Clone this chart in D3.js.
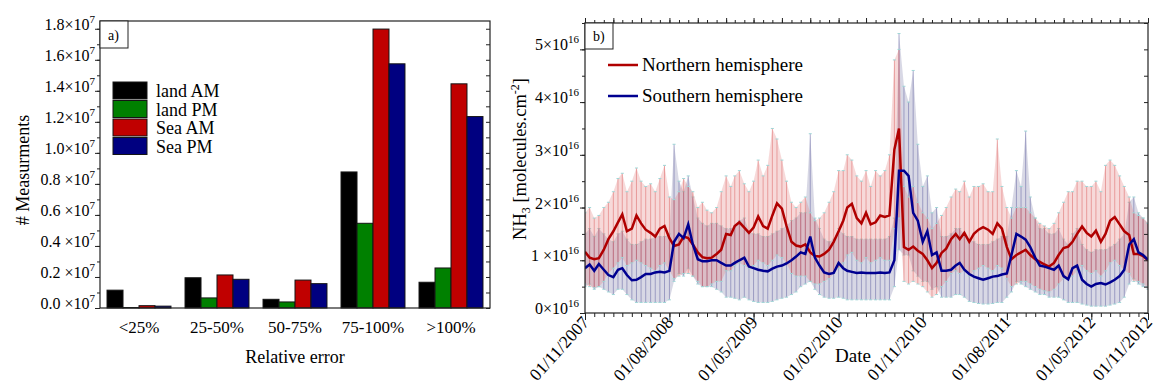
<!DOCTYPE html>
<html>
<head>
<meta charset="utf-8">
<script src="https://cdn.jsdelivr.net/npm/d3@7"></script>
<style>
body { margin: 0; background: #fff; }
svg, svg text { font-family: "Liberation Serif", "DejaVu Serif", "Times New Roman", Times, serif; }
svg { display: block; }
</style>
</head>
<body>
<svg id="chart" width="1156" height="392"></svg>
<script>
// ---------- panel a data (units of 10^7) ----------
var categories = ["<25%", "25-50%", "50-75%", "75-100%", ">100%"];
var seriesNames = ["land AM", "land PM", "Sea AM", "Sea PM"];
var landAM = [0.115, 0.195, 0.056, 0.877, 0.166];
var landPM = [0.003, 0.065, 0.039, 0.546, 0.258];
var seaAM  = [0.015, 0.213, 0.180, 1.798, 1.445];
var seaPM  = [0.012, 0.185, 0.157, 1.574, 1.234];
var yTicksA = [0, 0.2, 0.4, 0.6, 0.8, 1.0, 1.2, 1.4, 1.6, 1.8];
var yTickTextA = ["0.0 \u00d710", "0.2 \u00d710", "0.4 \u00d710", "0.6 \u00d710", "0.8 \u00d710",
                  "1.0\u00d710", "1.2\u00d710", "1.4\u00d710", "1.6\u00d710", "1.8\u00d710"];

// ---------- panel b data (units of 10^16), one value per half month ----------
var northMean = [
  1.16,1.05,1.02,1.04,1.20,1.40,1.55,1.72,1.87,1.55,
  1.60,1.85,1.70,1.58,1.52,1.45,1.60,1.65,1.42,1.27,
  1.30,1.45,1.42,1.30,1.15,1.06,1.04,1.05,1.12,1.20,
  1.50,1.48,1.65,1.72,1.62,1.52,1.62,1.83,1.65,1.60,
  1.85,2.08,1.98,1.65,1.35,1.28,1.26,1.30,1.15,1.08,
  1.07,1.12,1.20,1.35,1.55,1.75,2.00,2.07,1.80,1.70,
  1.90,1.68,1.72,1.85,1.82,1.85,3.10,3.50,1.25,1.20,
  1.26,1.18,1.12,1.00,0.85,0.95,1.14,1.22,1.40,1.50,
  1.40,1.52,1.35,1.50,1.58,1.63,1.58,1.50,1.70,1.60,
  1.25,1.02,1.10,1.15,1.20,1.10,1.02,0.97,0.92,0.88,
  0.95,1.10,1.23,1.26,1.35,1.50,1.64,1.52,1.45,1.56,
  1.35,1.50,1.75,1.82,1.68,1.55,1.48,1.12,1.12,1.08,
  1.00];
var northLow = [
  0.55,0.50,0.48,0.50,0.60,0.75,0.85,0.95,1.05,0.90,
  0.95,1.00,0.95,0.90,0.85,0.80,0.90,0.95,0.80,0.65,
  0.70,0.75,0.75,0.70,0.60,0.50,0.50,0.55,0.60,0.60,
  0.80,0.80,0.90,0.95,0.90,0.85,0.90,1.00,0.95,0.90,
  1.00,1.10,1.05,0.95,0.75,0.70,0.70,0.70,0.60,0.55,
  0.55,0.60,0.65,0.75,0.85,0.95,1.10,1.15,1.00,0.95,
  1.05,0.95,1.00,1.05,1.00,1.00,1.60,1.80,0.60,0.55,
  0.60,0.55,0.50,0.40,0.30,0.35,0.50,0.60,0.75,0.80,
  0.75,0.80,0.70,0.80,0.85,0.90,0.85,0.80,0.90,0.85,
  0.65,0.50,0.55,0.60,0.60,0.55,0.50,0.45,0.42,0.40,
  0.45,0.55,0.65,0.65,0.70,0.80,0.90,0.80,0.75,0.80,
  0.70,0.80,0.95,1.00,0.90,0.80,0.75,0.60,0.60,0.55,
  0.50];
var northHigh = [
  1.90,2.00,1.80,1.85,2.00,2.10,2.30,2.55,2.65,2.30,
  2.50,2.75,2.50,2.40,2.45,2.30,2.55,2.80,2.20,2.15,
  2.30,2.55,2.40,2.30,2.00,2.10,1.95,1.90,2.00,2.30,
  2.60,2.40,2.60,2.70,2.45,2.30,2.50,2.90,2.60,2.80,
  3.50,3.30,2.90,2.50,2.10,2.00,2.10,2.20,1.90,1.75,
  1.80,1.90,2.10,2.30,2.70,2.70,3.00,2.90,2.60,2.50,
  2.70,2.40,2.70,2.60,2.70,3.00,4.80,5.00,2.40,2.20,
  2.40,2.10,1.90,1.80,1.60,1.70,1.85,2.00,2.20,2.35,
  2.30,2.50,2.20,2.40,2.40,2.45,2.30,2.30,3.30,2.40,
  2.00,1.80,2.00,2.00,2.00,1.90,1.80,1.70,1.65,1.60,
  1.70,1.90,2.10,2.30,2.30,2.50,2.50,2.40,2.40,2.50,
  2.30,2.80,2.90,2.80,2.60,2.40,2.20,1.90,1.85,1.80,
  1.70];
var southMean = [
  0.85,0.92,0.80,0.93,0.82,0.72,0.68,0.82,0.85,0.72,
  0.62,0.63,0.68,0.74,0.74,0.77,0.78,0.77,0.80,1.35,
  1.50,1.42,1.68,1.30,1.02,0.98,0.98,1.00,1.00,0.95,
  0.90,0.90,0.95,1.00,1.05,0.88,0.85,0.82,0.80,0.79,
  0.84,0.88,0.90,0.94,1.00,1.07,1.15,1.12,1.45,1.05,
  0.90,0.77,0.74,0.76,0.95,0.85,0.80,0.78,0.76,0.77,
  0.76,0.76,0.76,0.77,0.76,0.77,1.00,2.70,2.70,2.60,
  1.90,1.75,1.35,1.55,1.10,1.15,0.80,0.80,0.82,0.90,
  0.95,0.82,0.74,0.69,0.66,0.63,0.66,0.69,0.70,0.73,
  0.75,1.10,1.50,1.45,1.39,1.25,1.05,0.90,0.88,0.85,
  0.82,0.90,0.70,0.64,0.85,0.90,0.63,0.55,0.50,0.55,
  0.57,0.54,0.58,0.63,0.70,0.82,1.30,1.40,1.15,1.10,
  1.01];
var southLow = [
  0.50,0.55,0.45,0.50,0.45,0.40,0.35,0.45,0.45,0.35,
  0.25,0.20,0.20,0.20,0.20,0.20,0.20,0.20,0.25,0.60,
  0.75,0.70,0.85,0.70,0.55,0.50,0.50,0.50,0.45,0.40,
  0.30,0.30,0.28,0.25,0.30,0.25,0.22,0.20,0.20,0.20,
  0.22,0.25,0.28,0.30,0.35,0.40,0.50,0.55,0.60,0.45,
  0.35,0.30,0.28,0.28,0.30,0.28,0.25,0.25,0.25,0.25,
  0.25,0.25,0.25,0.25,0.25,0.25,0.50,1.20,1.10,1.10,
  0.80,0.70,0.60,0.60,0.45,0.50,0.30,0.30,0.30,0.35,
  0.35,0.30,0.22,0.20,0.18,0.17,0.17,0.18,0.20,0.20,
  0.30,0.40,0.60,0.55,0.50,0.45,0.40,0.35,0.35,0.30,
  0.30,0.30,0.25,0.20,0.20,0.20,0.17,0.15,0.13,0.13,
  0.13,0.13,0.15,0.17,0.20,0.30,0.55,0.65,0.55,0.50,
  0.45];
var southHigh = [
  1.50,1.60,1.45,1.60,1.50,1.40,1.35,1.50,1.55,1.40,
  1.30,1.30,1.35,1.40,1.40,1.45,1.45,1.45,1.50,3.20,
  2.50,2.30,2.60,2.20,1.80,1.70,1.65,1.70,1.70,1.65,
  1.60,1.60,1.65,1.75,1.80,1.55,1.50,1.50,1.45,1.45,
  1.50,1.55,1.60,1.65,1.75,1.80,1.90,1.90,3.40,1.80,
  1.60,1.40,1.35,1.40,1.60,1.50,1.45,1.45,1.40,1.40,
  1.40,1.40,1.40,1.40,1.40,1.45,1.80,5.30,4.30,4.00,
  4.60,3.20,2.40,2.60,1.90,2.00,1.45,1.45,1.50,1.60,
  1.60,1.50,1.40,1.35,1.30,1.30,1.30,1.35,1.40,1.45,
  1.45,2.00,2.70,2.40,3.45,2.20,1.80,1.60,1.60,1.50,
  1.50,1.60,1.40,1.30,1.50,1.60,1.30,1.20,1.15,1.20,
  1.20,1.20,1.25,1.30,1.40,1.50,2.10,2.20,1.90,1.80,
  1.70];
var yTicksB = [0, 1, 2, 3, 4, 5];
var yTickTextB = ["0\u00d710", "1 \u00d710", "2\u00d710", "3\u00d710", "4\u00d710", "5\u00d710"];
var xDateLabels = ["01/11/2007", "01/08/2008", "01/05/2009", "01/02/2010",
                   "01/11/2010", "01/08/2011", "01/05/2012", "01/11/2012"];

// ---------- styles ----------
var barColors = ["#000000", "#008000", "#c00000", "#000080"];
var northColor = "#b00000", southColor = "#000090";
var serif = "'Liberation Serif', 'DejaVu Serif', 'Times New Roman', serif";

var svg = d3.select("#chart").style("font-family", serif);

// ================= panel a =================
var pa = {left: 100, right: 490, top: 21, bottom: 308};

var xA = d3.scaleBand().domain(categories).range([pa.left, pa.right])
  .paddingInner(0.18).paddingOuter(0.09);
var xSub = d3.scaleBand().domain(seriesNames).range([0, xA.bandwidth()]);
var yA = d3.scaleLinear().domain([0, 1.85]).range([pa.bottom, pa.top]);
var colA = d3.scaleOrdinal().domain(seriesNames).range(barColors);

var seriesA = [landAM, landPM, seaAM, seaPM];
seriesNames.forEach(function(name, k) {
  svg.append("g").selectAll("rect")
    .data(seriesA[k])
    .enter().append("rect")
    .attr("x", (d, i) => xA(categories[i]) + xSub(name))
    .attr("y", d => yA(d))
    .attr("width", xSub.bandwidth())
    .attr("height", d => yA(0) - yA(d))
    .style("fill", colA(name))
    .style("stroke", "#151515")
    .style("stroke-width", 1);
});

// frame
svg.append("rect")
  .attr("x", pa.left).attr("y", pa.top)
  .attr("width", pa.right - pa.left).attr("height", pa.bottom - pa.top)
  .style("fill", "none").style("stroke", "#222").style("stroke-width", 1.2);

var minorA = d3.range(0, 1.81, 0.1);
// left ticks (outward)
svg.append("g")
  .attr("transform", "translate(" + pa.left + ",0)")
  .call(d3.axisLeft(yA).tickValues(minorA).tickSize(3).tickSizeOuter(0).tickFormat(""));
svg.append("g")
  .attr("transform", "translate(" + pa.left + ",0)")
  .call(d3.axisLeft(yA).tickValues(yTicksA).tickSize(5).tickSizeOuter(0).tickFormat(""));
// right ticks (inward)
svg.append("g")
  .attr("transform", "translate(" + pa.right + ",0)")
  .call(d3.axisLeft(yA).tickValues(minorA).tickSize(4).tickSizeOuter(0).tickFormat(""));

yTicksA.forEach(function(v, i) {
  var t = svg.append("text")
    .attr("x", pa.left - 5).attr("y", yA(v) + 1)
    .style("text-anchor", "end").style("font-size", "16px");
  t.append("tspan").text(yTickTextA[i]);
  t.append("tspan").attr("dy", -7).style("font-size", "11px").text("7");
});

// category labels
svg.append("g").selectAll("text")
  .data(categories)
  .enter().append("text")
  .attr("x", d => xA(d) + xA.bandwidth() / 2)
  .attr("y", 333)
  .style("text-anchor", "middle").style("font-size", "17px")
  .text(d => d);

svg.append("text")
  .attr("x", 295).attr("y", 363)
  .style("text-anchor", "middle").style("font-size", "18px")
  .text("Relative error");

svg.append("text")
  .attr("transform", "translate(29,170) rotate(-90)")
  .style("text-anchor", "middle").style("font-size", "18px")
  .text("# Measurments");

// a) box
svg.append("rect").attr("x", pa.left).attr("y", pa.top).attr("width", 28).attr("height", 27)
  .style("fill", "#fff").style("stroke", "#222").style("stroke-width", 1);
svg.append("text").attr("x", pa.left + 8).attr("y", pa.top + 19)
  .style("font-size", "14px").text("a)");

// legend a
var legA = svg.selectAll(".legA")
  .data(seriesNames)
  .enter().append("g")
  .attr("class", "legA")
  .attr("transform", (d, i) => "translate(113," + (82 + i * 18.5) + ")");
legA.append("rect")
  .attr("width", 34).attr("height", 17)
  .style("fill", d => colA(d)).style("stroke", "#151515");
legA.append("text")
  .attr("x", 43).attr("y", 15)
  .style("font-size", "18px")
  .text(d => d);

// ================= panel b =================
var pb = {left: 585, right: 1148, top: 23, bottom: 313};
var parseD = d3.timeParse("%d/%m/%Y");
var t0 = parseD("01/11/2007"), t1 = parseD("01/11/2012");

var xB = d3.scaleTime().domain([t0, t1]).range([pb.left, pb.right]);
var yB = d3.scaleLinear().domain([0, 5.5]).range([pb.bottom, pb.top]);

// sample dates: 1st and 16th of each month
var sampleDates = [];
d3.timeMonth.range(t0, t1).forEach(function(m) {
  sampleDates.push(m, d3.timeDay.offset(m, 15));
});
sampleDates.push(t1);

svg.append("clipPath").attr("id", "clipB")
  .append("rect").attr("x", pb.left).attr("y", pb.top)
  .attr("width", pb.right - pb.left).attr("height", pb.bottom - pb.top);

var plotB = svg.append("g").attr("clip-path", "url(#clipB)");

function errorBand(low, high, fillCol, barCol) {
  var area = d3.area()
    .x((d, i) => xB(sampleDates[i]))
    .y0((d, i) => yB(low[i]))
    .y1((d, i) => yB(high[i]));
  plotB.append("path").datum(low)
    .attr("d", area)
    .style("fill", fillCol).style("stroke", "none");
  var g = plotB.append("g");
  g.selectAll("line.bar").data(low).enter().append("line")
    .attr("class", "bar")
    .attr("x1", (d, i) => xB(sampleDates[i])).attr("x2", (d, i) => xB(sampleDates[i]))
    .attr("y1", (d, i) => yB(low[i])).attr("y2", (d, i) => yB(high[i]))
    .style("stroke", barCol).style("stroke-width", 1);
  g.selectAll("line.capT").data(high).enter().append("line")
    .attr("class", "capT")
    .attr("x1", (d, i) => xB(sampleDates[i]) - 1.5).attr("x2", (d, i) => xB(sampleDates[i]) + 1.5)
    .attr("y1", d => yB(d)).attr("y2", d => yB(d))
    .style("stroke", "#9fd6d6").style("stroke-width", 1);
  g.selectAll("line.capB").data(low).enter().append("line")
    .attr("class", "capB")
    .attr("x1", (d, i) => xB(sampleDates[i]) - 1.5).attr("x2", (d, i) => xB(sampleDates[i]) + 1.5)
    .attr("y1", d => yB(d)).attr("y2", d => yB(d))
    .style("stroke", "#9fd6d6").style("stroke-width", 1);
}

errorBand(southLow, southHigh, "rgba(100,100,150,0.25)", "rgba(80,80,150,0.45)");
errorBand(northLow, northHigh, "rgba(225,120,120,0.28)", "rgba(215,80,80,0.45)");

var lineB = d3.line().x((d, i) => xB(sampleDates[i])).y(d => yB(d));
plotB.append("path").datum(northMean).attr("d", lineB)
  .style("fill", "none").style("stroke", northColor).style("stroke-width", 2.5);
plotB.append("path").datum(southMean).attr("d", lineB)
  .style("fill", "none").style("stroke", southColor).style("stroke-width", 2.5);

// frame
svg.append("rect")
  .attr("x", pb.left).attr("y", pb.top)
  .attr("width", pb.right - pb.left).attr("height", pb.bottom - pb.top)
  .style("fill", "none").style("stroke", "#222").style("stroke-width", 1.2);

// y ticks
var halfB = d3.range(0, 5.51, 0.5);
svg.append("g").attr("transform", "translate(" + pb.left + ",0)")
  .call(d3.axisLeft(yB).tickValues(halfB).tickSize(3).tickSizeOuter(0).tickFormat(""));
svg.append("g").attr("transform", "translate(" + pb.left + ",0)")
  .call(d3.axisLeft(yB).tickValues(yTicksB).tickSize(5).tickSizeOuter(0).tickFormat(""));
svg.append("g").attr("transform", "translate(" + pb.right + ",0)")
  .call(d3.axisLeft(yB).tickValues(halfB).tickSize(4).tickSizeOuter(0).tickFormat(""));

yTicksB.forEach(function(v, i) {
  var t = svg.append("text")
    .attr("x", pb.left - 6).attr("y", yB(v) + 1)
    .style("text-anchor", "end").style("font-size", "16px");
  t.append("tspan").text(yTickTextB[i]);
  t.append("tspan").attr("dy", -7).style("font-size", "11px").text("16");
});

// x ticks
var monthsB = d3.timeMonth.range(t0, d3.timeDay.offset(t1, 1));
var quartersB = monthsB.filter((d, i) => i % 3 === 0);
var labelDates = xDateLabels.map(parseD);
svg.append("g").attr("transform", "translate(0," + pb.bottom + ")")
  .call(d3.axisBottom(xB).tickValues(monthsB).tickSize(4).tickSizeOuter(0).tickFormat(""));
svg.append("g").attr("transform", "translate(0," + pb.bottom + ")")
  .call(d3.axisBottom(xB).tickValues(labelDates).tickSize(7).tickSizeOuter(0).tickFormat(""));
svg.append("g").attr("transform", "translate(0," + pb.top + ")")
  .call(d3.axisTop(xB).tickValues(monthsB).tickSize(3).tickSizeOuter(0).tickFormat(""));
svg.append("g").attr("transform", "translate(0," + pb.top + ")")
  .call(d3.axisTop(xB).tickValues(quartersB).tickSize(5).tickSizeOuter(0).tickFormat(""));

svg.append("g").selectAll("text")
  .data(xDateLabels)
  .enter().append("text")
  .attr("transform", d => "translate(" + (xB(parseD(d)) + 5) + "," + (pb.bottom + 10) + ") rotate(-48)")
  .style("text-anchor", "end").style("font-size", "17.5px")
  .text(d => d);

svg.append("text")
  .attr("x", 853).attr("y", 362)
  .style("text-anchor", "middle").style("font-size", "19px")
  .text("Date");

// y label NH3
var yl = svg.append("text")
  .attr("transform", "translate(526,159) rotate(-90)")
  .style("text-anchor", "middle").style("font-size", "18.5px");
yl.append("tspan").text("NH");
yl.append("tspan").attr("dy", 4).style("font-size", "12px").text("3");
yl.append("tspan").attr("dy", -4).text(" [molecules.cm");
yl.append("tspan").attr("dy", -7).style("font-size", "12px").text("-2");
yl.append("tspan").attr("dy", 7).text("]");

// b) box
svg.append("rect").attr("x", pb.left).attr("y", pb.top).attr("width", 28).attr("height", 26)
  .style("fill", "#fff").style("stroke", "#222").style("stroke-width", 1);
svg.append("text").attr("x", pb.left + 8).attr("y", pb.top + 18)
  .style("font-size", "14px").text("b)");

// legend b
var legB = svg.selectAll(".legB")
  .data([["Northern hemisphere", northColor], ["Southern hemisphere", southColor]])
  .enter().append("g")
  .attr("class", "legB")
  .attr("transform", (d, i) => "translate(608," + (65 + i * 31) + ")");
legB.append("line")
  .attr("x1", 0).attr("x2", 30)
  .style("stroke", d => d[1]).style("stroke-width", 2.5);
legB.append("text")
  .attr("x", 34).attr("y", 6)
  .style("font-size", "19px")
  .text(d => d[0]);

// d3 axes set their own font; reset to serif
svg.selectAll("g").attr("font-family", null);
svg.selectAll(".domain").style("stroke", "none");
svg.selectAll(".tick line").style("stroke", "#222");
</script>
</body>
</html>
